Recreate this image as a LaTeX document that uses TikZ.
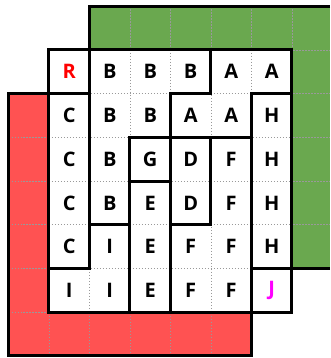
\documentclass[tikz,border=0pt]{standalone}
\usepackage{fontspec}
\setmainfont{Open Sans}
\definecolor{boardgreen}{RGB}{106,168,79}
\definecolor{boardred}{RGB}{255,82,82}
\definecolor{markR}{RGB}{255,0,0}
\definecolor{markJ}{RGB}{255,0,255}
\begin{document}
\begin{tikzpicture}[x=40.5pt, y=-43.7pt,
  every node/.style={font=\fontsize{20}{24}\selectfont\bfseries},
  wall/.style={line width=3pt, black},
  dotgrid/.style={gray!80, line width=0.8pt, dash pattern=on 1.5pt off 1.5pt}]
  \useasboundingbox (-1.21,-1.144) rectangle (6.94,7.05);

  \fill[boardgreen] (1,-1) rectangle (6.94,5);
  \foreach \k in {2,...,6} \draw[dotgrid] (\k,-1) -- (\k,5);
  \foreach \k in {0,...,4} \draw[dotgrid] (1,\k) -- (6.94,\k);
  \draw[wall] (6.94,-1) -- (1,-1) -- (1,5) -- (6.94,5);

  \fill[boardred] (-1,1) rectangle (5,7);
  \foreach \k in {0,...,4} \draw[dotgrid] (\k,1) -- (\k,7);
  \foreach \k in {2,...,6} \draw[dotgrid] (-1,\k) -- (5,\k);
  \draw[wall] (-1,1) rectangle (5,7);

  \fill[white] (0,0) rectangle (6,6);
  \foreach \k in {1,...,5} {
    \draw[dotgrid] (\k,0) -- (\k,6);
    \draw[dotgrid] (0,\k) -- (6,\k);
  }

  \foreach \row [count=\j from 0] in {{{\color{markR}R},B,B,B,A,A},{C,B,B,A,A,H},{C,B,G,D,F,H},
                                      {C,B,E,D,F,H},{C,I,E,F,F,H},{I,I,E,F,F,{\color{markJ}J}}}
    \foreach \ch [count=\i from 0] in \row
      \node (c\i\j) at (\i+0.5,\j+0.5) {\ch};

  \draw[wall] (0,0) rectangle (1,1);
  \draw[wall] (1,0) -- (4,0) -- (4,1) -- (3,1) -- (3,2) -- (2,2) -- (2,4) -- (1,4) -- cycle;
  \draw[wall] (4,0) -- (6,0) -- (6,1) -- (5,1) -- (5,2) -- (3,2) -- (3,1) -- (4,1) -- cycle;
  \draw[wall] (5,1) rectangle (6,5);
  \draw[wall] (0,1) rectangle (1,5);
  \draw[wall] (2,2) rectangle (3,3);
  \draw[wall] (3,2) rectangle (4,4);
  \draw[wall] (4,2) -- (5,2) -- (5,6) -- (3,6) -- (3,4) -- (4,4) -- cycle;
  \draw[wall] (2,3) rectangle (3,6);
  \draw[wall] (1,4) -- (2,4) -- (2,6) -- (0,6) -- (0,5) -- (1,5) -- cycle;
  \draw[wall] (5,5) rectangle (6,6);
  \draw[wall] (0,0) rectangle (6,6);
\end{tikzpicture}
\end{document}
